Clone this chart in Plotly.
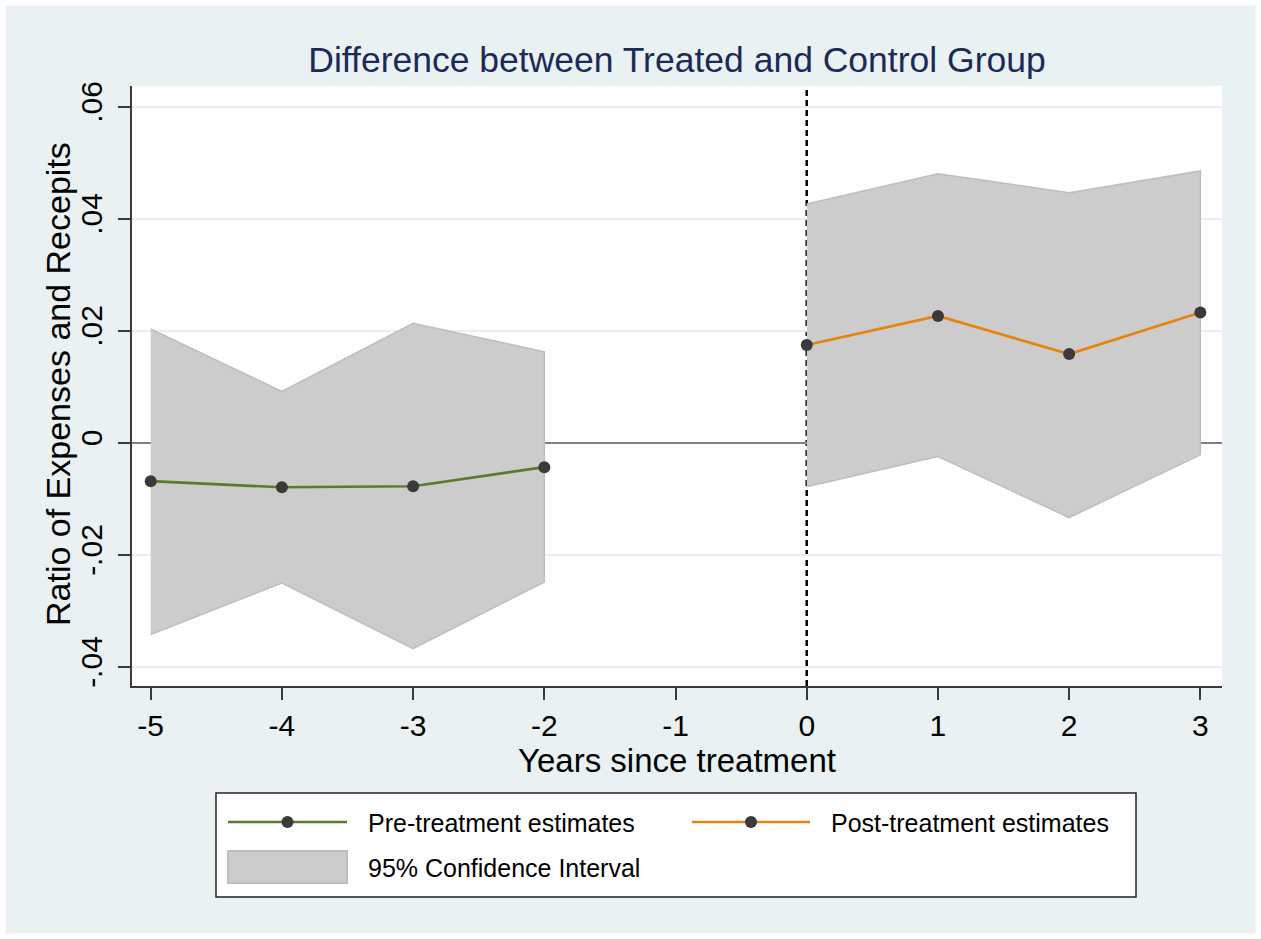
import plotly.graph_objects as go

# Event-study estimates: years relative to treatment
pre_years = [-5, -4, -3, -2]
pre_est = [-0.0069, -0.0080, -0.0078, -0.0044]
pre_upper = [0.0203, 0.0091, 0.0213, 0.0162]
pre_lower = [-0.0343, -0.0251, -0.0368, -0.0249]

post_years = [0, 1, 2, 3]
post_est = [0.0174, 0.0226, 0.0158, 0.0232]
post_upper = [0.0426, 0.0480, 0.0446, 0.0485]
post_lower = [-0.0079, -0.0025, -0.0134, -0.0022]

x_ticks = [-5, -4, -3, -2, -1, 0, 1, 2, 3]
y_ticks = [-0.04, -0.02, 0, 0.02, 0.04, 0.06]
y_tick_text = ["-.04", "-.02", "0", ".02", ".04", ".06"]

TITLE = "Difference between Treated and Control Group"
X_TITLE = "Years since treatment"
Y_TITLE = "Ratio of Expenses and Recepits"
LEG_PRE = "Pre-treatment estimates"
LEG_POST = "Post-treatment estimates"
LEG_CI = "95% Confidence Interval"

# Figure geometry (pixels)
W, H = 1261, 939
L, R, T, B = 132, 1222, 86, 686

BG = "#E9F1F3"
GRID = "#E6EEF1"
AXIS = "#3A3A3A"
GREEN = "#587C2C"
ORANGE = "#E8820C"
MARK = "#3A3A3A"
CI_FILL = "#CCCCCC"
CI_EDGE = "#BEBEBE"
FONT = "Arial, Liberation Sans, sans-serif"


def px(x):
    return (x - L) / (R - L)


def py(y):
    return (B - y) / (B - T)


fig = go.Figure()

for xs, up, lo in [(pre_years, pre_upper, pre_lower), (post_years, post_upper, post_lower)]:
    fig.add_trace(go.Scatter(
        x=xs + xs[::-1], y=up + lo[::-1], mode="lines", fill="toself",
        fillcolor=CI_FILL, line=dict(color=CI_EDGE, width=1.5),
        hoverinfo="skip", showlegend=False))

for xs, ys, col, name in [(pre_years, pre_est, GREEN, LEG_PRE), (post_years, post_est, ORANGE, LEG_POST)]:
    fig.add_trace(go.Scatter(
        x=xs, y=ys, mode="lines+markers", name=name,
        line=dict(color=col, width=2.6),
        marker=dict(color=MARK, size=12, line=dict(width=0)),
        showlegend=False))

shapes = []
# treatment onset
shapes.append(dict(type="line", xref="x", yref="paper", x0=0, x1=0, y0=0, y1=1,
                   line=dict(color="black", width=2.5, dash="6px,4px"), layer="below"))

# legend frame
shapes.append(dict(type="rect", xref="paper", yref="paper",
                   x0=px(216), x1=px(1136), y0=py(897), y1=py(793),
                   line=dict(color="#222222", width=1.5), fillcolor="white", layer="above"))
for (x0, x1, xm, yc, col) in [(228, 347, 287.5, 822, GREEN), (692, 810, 751, 822, ORANGE)]:
    shapes.append(dict(type="line", xref="paper", yref="paper",
                       x0=px(x0), x1=px(x1), y0=py(yc), y1=py(yc),
                       line=dict(color=col, width=2.6), layer="above"))
    shapes.append(dict(type="circle", xref="paper", yref="paper",
                       x0=px(xm - 6), x1=px(xm + 6), y0=py(yc + 6), y1=py(yc - 6),
                       fillcolor=MARK, line=dict(width=0), layer="above"))
shapes.append(dict(type="rect", xref="paper", yref="paper",
                   x0=px(228), x1=px(347), y0=py(883), y1=py(851),
                   fillcolor=CI_FILL, line=dict(color=CI_EDGE, width=2), layer="above"))

# white outer frame
shapes.append(dict(type="rect", xref="paper", yref="paper",
                   x0=px(0), x1=px(W), y0=py(H), y1=py(0),
                   line=dict(color="white", width=11), fillcolor="rgba(0,0,0,0)", layer="above"))

annotations = [
    dict(text=LEG_PRE, x=px(366), y=py(823), xref="paper", yref="paper",
         xanchor="left", yanchor="middle", showarrow=False,
         font=dict(size=25, color="black", family=FONT)),
    dict(text=LEG_POST, x=px(829), y=py(823), xref="paper", yref="paper",
         xanchor="left", yanchor="middle", showarrow=False,
         font=dict(size=25, color="black", family=FONT)),
    dict(text=LEG_CI, x=px(366), y=py(868), xref="paper", yref="paper",
         xanchor="left", yanchor="middle", showarrow=False,
         font=dict(size=25, color="black", family=FONT)),
    # axis titles
    dict(text=X_TITLE, x=0.5, y=py(760), xref="paper", yref="paper",
         xanchor="center", yanchor="middle", showarrow=False,
         font=dict(size=33, color="black", family=FONT)),
    dict(text=Y_TITLE, x=px(58), y=py(384), xref="paper", yref="paper",
         xanchor="center", yanchor="middle", showarrow=False, textangle=-90,
         font=dict(size=34, color="black", family=FONT)),
]

fig.update_layout(
    width=W, height=H,
    margin=dict(l=L, r=W - R, t=T, b=H - B, autoexpand=False),
    paper_bgcolor=BG, plot_bgcolor="white",
    font=dict(family=FONT, color="black"),
    title=dict(text=TITLE, x=0.5, xref="paper", xanchor="center",
               y=1 - 60 / H, yref="container", yanchor="middle",
               font=dict(size=35.5, color="#1B2A58", family=FONT)),
    shapes=shapes, annotations=annotations,
    showlegend=False,
)

fig.update_xaxes(
    range=[-5.1425, 3.165], tickvals=x_ticks, ticktext=[str(v) for v in x_ticks],
    showgrid=False, zeroline=False,
    showline=True, linecolor=AXIS, linewidth=2,
    ticks="outside", ticklen=12, tickwidth=2, tickcolor=AXIS,
    tickfont=dict(size=30, color="black"),
    automargin=False,
)
fig.update_yaxes(
    range=[-0.04348, 0.06366], tickvals=y_ticks, ticktext=y_tick_text,
    tickangle=-90,
    showgrid=True, gridcolor=GRID, gridwidth=2,
    zeroline=True, zerolinecolor="#808080", zerolinewidth=2,
    showline=True, linecolor=AXIS, linewidth=2,
    ticks="outside", ticklen=12, tickwidth=2, tickcolor=AXIS,
    tickfont=dict(size=30, color="black"), ticklabelstandoff=4,
    automargin=False,
)

fig.write_html("out.html")
